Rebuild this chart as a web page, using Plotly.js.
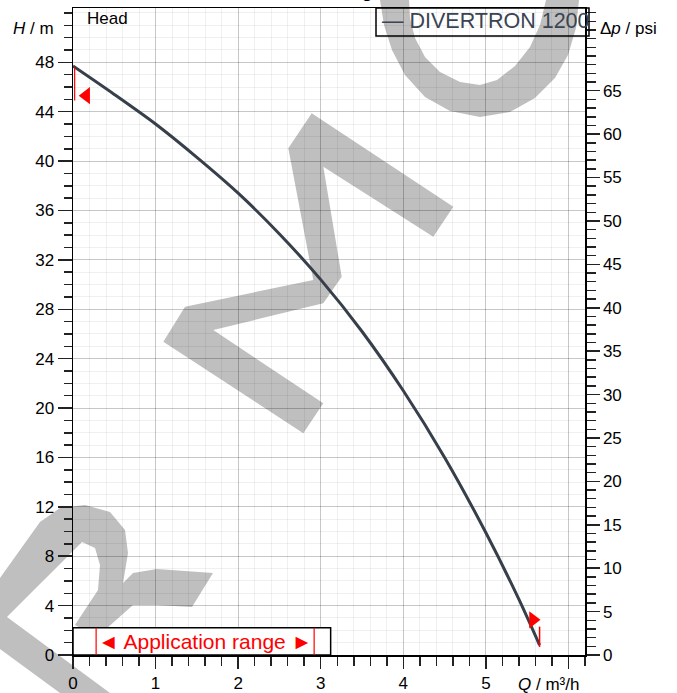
<!DOCTYPE html>
<html><head><meta charset="utf-8">
<script src="https://cdn.plot.ly/plotly-3.0.1.min.js"></script>
<style>html,body{margin:0;padding:0;background:#fff}#chart{width:677px;height:693px}</style>
</head><body><div id="chart"></div>
<script>
// ---- data ----
const flowQ = [0, 0.5, 1, 1.5, 2, 2.5, 3, 3.5, 4, 4.5, 5, 5.4, 5.65];
const headH = [47.7, 45.4, 43.0, 40.3, 37.4, 34.1, 30.4, 26.2, 21.4, 16.0, 9.9, 4.5, 0.8];
const seriesName = "DIVERTRON 1200";
const startMarkQ = [0.16], startMarkH = [45.3];
const endMarkQ = [5.57], endMarkH = [2.85];
const startLineQ = [0.02, 0.02], startLineH = [47.6, 44.9];
const endLineQ = [5.65, 5.65], endLineH = [2.3, 0.65];
const appRangeQ = [0.28, 2.92];
const appBoxQ = 3.12, appBoxH = 2.2;
const xTickVals = [0, 1, 2, 3, 4, 5, 6];
const xTickText = ["0", "1", "2", "3", "4", "5", ""];
const hTickVals = [0, 4, 8, 12, 16, 20, 24, 28, 32, 36, 40, 44, 48];
const psiTickVals = [0, 5, 10, 15, 20, 25, 30, 35, 40, 45, 50, 55, 60, 65];
const mPerPsi = 0.70307;
const hMax = 52.4, qMax = 6.2;

// ---- geometry helpers (plot area in pixels) ----
const L = 73, R = 585, T = 8, B = 655;
const px = x => (x - L) / (R - L);
const py = y => (B - y) / (B - T);
function poly(pts) {
  return 'M' + pts.map(p => px(p[0]).toFixed(4) + ',' + py(p[1]).toFixed(4)).join('L') + 'Z';
}
const wmColor = '#bfbfbf';
const wmPolys = [
  // M
  [[303.3,433.3],[323.3,403.3],[213.3,330],[323.3,303.3],[341.7,276.7],[323.3,166.7],[433.3,236.7],[453.3,206.7],[311.7,113.3],[288.3,148.3],[313.3,280],[185,306.7],[163.3,341.7]],
  // O ring (outer then inner reversed)
  [[380,0],[384,25],[392,50],[405,75],[425,97],[450,111],[480,117],[510,112],[535,98],[555,78],[568,55],[576,28],[579,0],
   [546,0],[540,25],[530,47],[515,66],[497,80],[480,85],[460,82],[440,72],[425,57],[415,38],[410,18],[409,0]],
  // R bowl + stem
  [[0,578],[40,522],[60,508],[85,505],[110,512],[125,530],[128,553],[123,583],[133,573],[157,569],[213,573],[192,607],[157,605],[133,605],[97,637],[75,625],[98,590],[100,565],[95,548],[82,542],[7,617],[110,693],[60,693],[0,649]]
];

const shapes = wmPolys.map(p => ({type:'path', xref:'paper', yref:'paper', path: poly(p), fillcolor: wmColor, line:{width:0}, layer:'below'}));
// application range box
shapes.push({type:'rect', xref:'x', yref:'y', x0:0, x1:appBoxQ, y0:0, y1:appBoxH, fillcolor:'#ffffff', line:{color:'#000', width:1.5}, layer:'above'});
appRangeQ.forEach(q => shapes.push({type:'line', xref:'x', yref:'y', x0:q, x1:q, y0:0, y1:appBoxH, line:{color:'#ff0000', width:1.2}, layer:'above'}));
// legend box
shapes.push({type:'rect', xref:'paper', yref:'paper', x0:px(376), x1:px(589), y0:py(36), y1:py(8), line:{color:'#000', width:1.5}, fillcolor:'rgba(0,0,0,0)', layer:'above'});

const font = 'Liberation Sans, Arial, sans-serif';
const traces = [
  {x: flowQ, y: headH, mode:'lines', line:{color:'#363f4a', width:3, shape:'spline', smoothing:0.8}, name: seriesName, hoverinfo:'skip'},
  {x: startLineQ, y: startLineH, mode:'lines', line:{color:'#ff0000', width:1.2}, hoverinfo:'skip'},
  {x: endLineQ, y: endLineH, mode:'lines', line:{color:'#ff0000', width:1.5}, hoverinfo:'skip'},
  {x: startMarkQ, y: startMarkH, mode:'markers', marker:{symbol:'triangle-left', size:15, color:'#ff0000'}, hoverinfo:'skip'},
  {x: endMarkQ, y: endMarkH, mode:'markers', marker:{symbol:'triangle-right', size:15, color:'#ff0000'}, hoverinfo:'skip'},
  {x: [0], y: [0], yaxis:'y2', mode:'markers', marker:{opacity:0}, hoverinfo:'skip'}
];

const majGrid = 'rgba(0,0,0,0.17)', minGrid = 'rgba(0,0,0,0.06)';
const tickC = '#222';
const layout = {
  width: 677, height: 693,
  margin: {l: L, r: 677 - R, t: T, b: 693 - B, pad: 0},
  paper_bgcolor: '#ffffff', plot_bgcolor: 'rgba(0,0,0,0)',
  showlegend: false,
  font: {family: font, size: 17, color: '#000'},
  xaxis: {
    range: [0, qMax], tickmode:'array', tickvals: xTickVals, ticktext: xTickText,
    ticks:'outside', ticklen: 12, tickwidth: 1.5, tickcolor: tickC,
    showline:true, linecolor:'#000', linewidth:1.5, mirror:true,
    showgrid:true, gridcolor: majGrid, gridwidth:1, zeroline:false,
    minor: {tickmode:'linear', tick0:0, dtick:0.2, ticks:'outside', ticklen:9, tickwidth:1.5, tickcolor: tickC, showgrid:true, gridcolor:minGrid, gridwidth:1},
    tickfont:{size:17}
  },
  yaxis: {
    range: [0, hMax], tickmode:'array', tickvals: hTickVals,
    ticks:'outside', ticklen: 14, tickwidth: 1.5, tickcolor: tickC,
    showline:true, linecolor:'#000', linewidth:1.5,
    showgrid:true, gridcolor: majGrid, gridwidth:1, zeroline:false,
    minor: {tickmode:'linear', tick0:0, dtick:1, ticks:'outside', ticklen:8, tickwidth:1.5, tickcolor: tickC, showgrid:true, gridcolor:minGrid, gridwidth:1},
    tickfont:{size:17}
  },
  yaxis2: {
    overlaying:'y', side:'right', range:[0, hMax / mPerPsi], tickmode:'array', tickvals: psiTickVals,
    ticks:'outside', ticklen: 13, tickwidth: 1.5, tickcolor: tickC,
    showline:true, linecolor:'#000', linewidth:1.5, showgrid:false, zeroline:false,
    minor: {tickmode:'linear', tick0:0, dtick:1, ticks:'outside', ticklen:9, tickwidth:1.5, tickcolor: tickC, showgrid:false},
    tickfont:{size:17}
  },
  shapes: shapes,
  annotations: [
    {xref:'paper', yref:'paper', x:px(11), y:py(28), xanchor:'left', yanchor:'middle', text:'<i>H</i> / m', showarrow:false, font:{size:17}},
    {xref:'paper', yref:'paper', x:px(598), y:py(28), xanchor:'left', yanchor:'middle', text:'Δ<i>p</i> / psi', showarrow:false, font:{size:17}},
    {xref:'paper', yref:'paper', x:px(516), y:py(684), xanchor:'left', yanchor:'middle', text:'<i>Q</i> / m³/h', showarrow:false, font:{size:17}},
    {xref:'paper', yref:'paper', x:px(85), y:py(19), xanchor:'left', yanchor:'middle', text:'Head', showarrow:false, font:{size:17}},
    {xref:'paper', yref:'paper', x:px(380), y:py(21), xanchor:'left', yanchor:'middle', text:'— ' + seriesName, showarrow:false, font:{size:21.5, color:'#3a4452'}},
    {xref:'x', yref:'y', x:(appRangeQ[0] + appRangeQ[1]) / 2, y:appBoxH / 2, xanchor:'center', yanchor:'middle', text:'◄ Application range ►', showarrow:false, font:{size:21, color:'#ff0000'}},
    {xref:'paper', yref:'paper', x:px(367), y:py(-7), xanchor:'center', yanchor:'middle', text:'<b>g</b>', showarrow:false, font:{size:17}}
  ]
};
const gd = document.getElementById('chart');
Plotly.newPlot(gd, traces, layout, {staticPlot:true, displayModeBar:false}).then(() => {
  // clip the legend label to its box, as in the original
  const svgs = gd.querySelectorAll('svg.main-svg');
  const top = svgs[svgs.length - 1];
  const NS = 'http://www.w3.org/2000/svg';
  let defs = top.querySelector('defs');
  if (!defs) { defs = document.createElementNS(NS, 'defs'); top.insertBefore(defs, top.firstChild); }
  const cp = document.createElementNS(NS, 'clipPath');
  cp.setAttribute('id', 'legclip');
  const rc = document.createElementNS(NS, 'rect');
  rc.setAttribute('x', 376); rc.setAttribute('y', 8); rc.setAttribute('width', 212); rc.setAttribute('height', 28);
  cp.appendChild(rc); defs.appendChild(cp);
  const ann = gd.querySelector('g.annotation[data-index="4"]');
  if (ann) ann.setAttribute('clip-path', 'url(#legclip)');
});
</script></body></html>
